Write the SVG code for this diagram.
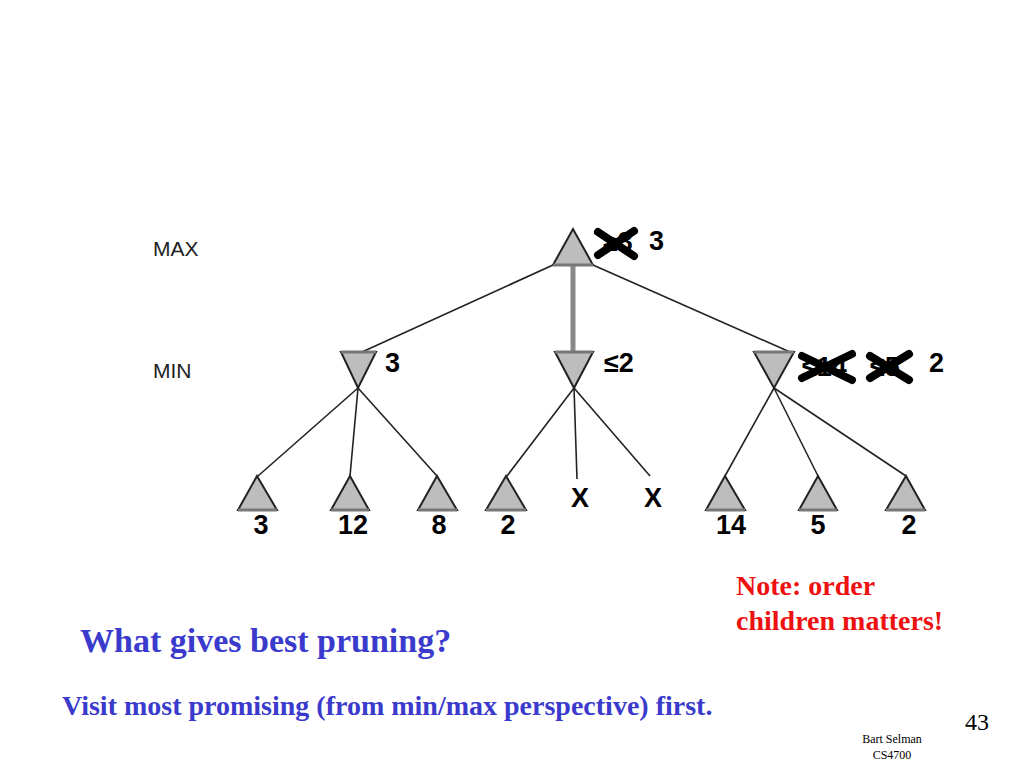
<svg xmlns="http://www.w3.org/2000/svg" width="1024" height="768" viewBox="0 0 1024 768">
<style>
.tri{fill:#bdbdbd;stroke:#222;stroke-width:2}
.base{stroke:#777;stroke-width:3}
.edge{stroke:#222;stroke-width:1.6;fill:none}
.lbl{font-family:"Liberation Sans",Arial,sans-serif;font-weight:bold;font-size:27px;fill:#000}
.lvl{font-family:"Liberation Sans",Arial,sans-serif;font-size:21px;fill:#222}
.cross{stroke:#000;stroke-width:8;stroke-linecap:round}
.serif{font-family:"Liberation Serif","Times New Roman",serif;font-weight:bold}
</style>
<rect width="1024" height="768" fill="#fff"/>
<text class="lvl" x="153" y="256">MAX</text>
<text class="lvl" x="153" y="378">MIN</text>
<g id="connectors">
<line class="edge" x1="553" y1="265" x2="362" y2="352"/>
<line x1="573" y1="265" x2="573" y2="352" stroke="#888" stroke-width="5"/>
<line class="edge" x1="593" y1="265" x2="790" y2="352"/>
<line class="edge" x1="358" y1="388" x2="258" y2="476"/>
<line class="edge" x1="358" y1="388" x2="350" y2="476"/>
<line class="edge" x1="358" y1="388" x2="437" y2="476"/>
<line class="edge" x1="574" y1="388" x2="507" y2="476"/>
<line class="edge" x1="574" y1="388" x2="577" y2="479"/>
<line class="edge" x1="574" y1="388" x2="650" y2="476"/>
<line class="edge" x1="774" y1="388" x2="725" y2="476"/>
<line class="edge" x1="774" y1="388" x2="818" y2="476"/>
<line class="edge" x1="774" y1="388" x2="906" y2="476"/>
</g>
<g id="root">
<polygon class="tri" points="573,229 553,265 593,265"/>
<line class="base" x1="553" y1="265" x2="593" y2="265"/>
<text class="lbl" x="603" y="251">≥3</text>
<line class="cross" x1="598" y1="232" x2="634" y2="256"/>
<line class="cross" x1="598" y1="255" x2="634" y2="231"/>
<text class="lbl" x="649" y="250">3</text>
</g>
<g id="min1">
<polygon class="tri" points="341,352 376,352 358,388"/>
<line class="base" x1="341" y1="352" x2="376" y2="352"/>
<text class="lbl" x="385" y="372">3</text>
</g>
<g id="min2">
<polygon class="tri" points="555,352 593,352 574,388"/>
<line class="base" x1="555" y1="352" x2="593" y2="352"/>
<text class="lbl" x="604" y="372">≤2</text>
</g>
<g id="min3">
<polygon class="tri" points="754,352 794,352 774,388"/>
<line class="base" x1="754" y1="352" x2="794" y2="352"/>
<text class="lbl" x="802" y="376">≤14</text>
<line class="cross" x1="802" y1="356" x2="852" y2="380"/>
<line class="cross" x1="802" y1="378" x2="852" y2="354"/>
<text class="lbl" x="870" y="376">≤5</text>
<line class="cross" x1="870" y1="356" x2="909" y2="380"/>
<line class="cross" x1="870" y1="378" x2="909" y2="354"/>
<text class="lbl" x="929" y="372">2</text>
</g>
<g id="leaf1">
<polygon class="tri" points="257,476 238,510 277,510"/>
<line class="base" x1="238" y1="510" x2="277" y2="510"/>
<text class="lbl" x="261" y="534" text-anchor="middle">3</text>
</g>
<g id="leaf2">
<polygon class="tri" points="350,476 331,510 369,510"/>
<line class="base" x1="331" y1="510" x2="369" y2="510"/>
<text class="lbl" x="353" y="534" text-anchor="middle">12</text>
</g>
<g id="leaf3">
<polygon class="tri" points="437,476 418,510 457,510"/>
<line class="base" x1="418" y1="510" x2="457" y2="510"/>
<text class="lbl" x="439" y="534" text-anchor="middle">8</text>
</g>
<g id="leaf4">
<polygon class="tri" points="506,476 486,510 526,510"/>
<line class="base" x1="486" y1="510" x2="526" y2="510"/>
<text class="lbl" x="508" y="534" text-anchor="middle">2</text>
</g>
<g id="leaf5">
<text class="lbl" x="580" y="507" text-anchor="middle">X</text>
</g>
<g id="leaf6">
<text class="lbl" x="653" y="507" text-anchor="middle">X</text>
</g>
<g id="leaf7">
<polygon class="tri" points="725,476 706,510 745,510"/>
<line class="base" x1="706" y1="510" x2="745" y2="510"/>
<text class="lbl" x="731" y="534" text-anchor="middle">14</text>
</g>
<g id="leaf8">
<polygon class="tri" points="818,476 799,510 837,510"/>
<line class="base" x1="799" y1="510" x2="837" y2="510"/>
<text class="lbl" x="818" y="534" text-anchor="middle">5</text>
</g>
<g id="leaf9">
<polygon class="tri" points="906,476 886,510 925,510"/>
<line class="base" x1="886" y1="510" x2="925" y2="510"/>
<text class="lbl" x="909" y="534" text-anchor="middle">2</text>
</g>
<text class="serif" x="736" y="595" font-size="28" fill="#ee1111">Note: order</text>
<text class="serif" x="736" y="630" font-size="28" fill="#ee1111">children matters!</text>
<text class="serif" x="80" y="652" font-size="34" fill="#3a3acc">What gives best pruning?</text>
<text class="serif" x="62" y="715" font-size="28" fill="#3a3acc">Visit most promising (from min/max perspective) first.</text>
<text x="965" y="730" font-family="Liberation Serif,'Times New Roman',serif" font-size="24" fill="#000">43</text>
<text x="892" y="743" font-family="Liberation Serif,'Times New Roman',serif" font-size="12" fill="#000" text-anchor="middle">Bart Selman</text>
<text x="892" y="759" font-family="Liberation Serif,'Times New Roman',serif" font-size="12" fill="#000" text-anchor="middle">CS4700</text>
</svg>
